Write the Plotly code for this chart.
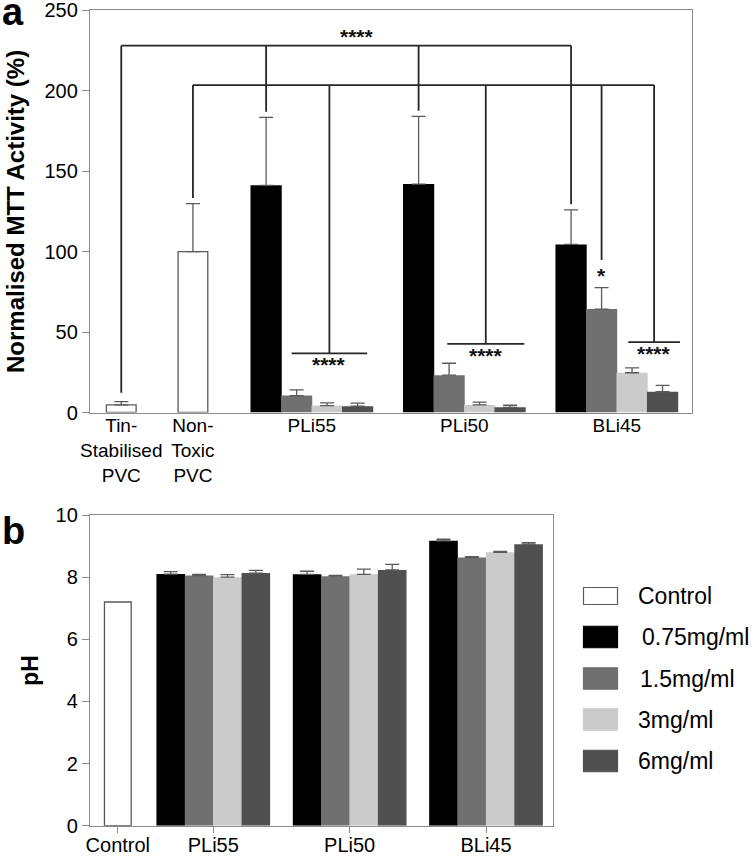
import plotly.graph_objects as go

# ---------------- data ----------------
# Panel a: normalised MTT activity (%)
control_labels_a = ["Tin-<br>Stabilised<br>PVC", "Non-<br>Toxic<br>PVC"]
control_mtt = [4.7, 100.0]
control_mtt_err = [2.1, 29.8]

groups = ["PLi55", "PLi50", "BLi45"]
series_names = ["0.75mg/ml", "1.5mg/ml", "3mg/ml", "6mg/ml"]

mtt_075 = [141.2, 142.0, 104.5]
mtt_15 = [10.5, 23.2, 64.3]
mtt_3 = [4.3, 4.7, 24.7]
mtt_6 = [3.9, 3.2, 12.9]
mtt_075_err = [42.3, 42.1, 21.5]
mtt_15_err = [3.6, 7.4, 13.3]
mtt_3_err = [1.7, 1.8, 3.0]
mtt_6_err = [1.9, 1.3, 3.9]

# Panel b: pH
control_label_b = ["Control"]
control_ph = [7.2]
ph_075 = [8.10, 8.09, 9.17]
ph_15 = [8.05, 8.03, 8.63]
ph_3 = [8.00, 8.09, 8.80]
ph_6 = [8.13, 8.23, 9.06]
ph_075_err = [0.08, 0.10, 0.05]
ph_15_err = [0.04, 0.03, 0.03]
ph_3_err = [0.08, 0.17, 0.03]
ph_6_err = [0.09, 0.18, 0.05]

yticks_a = [0, 50, 100, 150, 200, 250]
yticks_b = [0, 2, 4, 6, 8, 10]

# significance labels
sig_main = "****"
sig_single = "*"

# ---------------- layout / style ----------------
W, H = 755, 857
FONT = "Liberation Sans, Arial, sans-serif"
colors = ["#000000", "#707070", "#cbcbcb", "#505050"]
ctrl_fill, ctrl_line = "#ffffff", "#5a5a5a"
axis_col = "#8a8a8a"
err_col = "#5a5a5a"
brk_col = "#262626"

# category positions on the numeric x axes
pos_ctrl_a = [0.0, 0.47]
pos_grp_a = [1.25, 2.25, 3.25]
step_a, width_a, ctrl_w_a = 0.2, 0.205, 0.195
pos_ctrl_b = [0.3]
pos_grp_b = [1.0, 2.0, 3.0]
step_b, width_b, ctrl_w_b = 0.208, 0.21, 0.196

def px_x(px):
    return px / W

def px_y(py):
    return 1 - py / H

series_a = [mtt_075, mtt_15, mtt_3, mtt_6]
series_a_err = [mtt_075_err, mtt_15_err, mtt_3_err, mtt_6_err]
series_b = [ph_075, ph_15, ph_3, ph_6]
series_b_err = [ph_075_err, ph_15_err, ph_3_err, ph_6_err]

def err(arr, color=err_col, w=7):
    return dict(type="data", symmetric=False, array=arr, arrayminus=[0] * len(arr),
                color=color, thickness=1.3, width=w)

fig = go.Figure()

# ---- panel a bars ----
fig.add_trace(go.Bar(x=pos_ctrl_a, y=control_mtt, width=ctrl_w_a, name="Control",
                     marker=dict(color=ctrl_fill, line=dict(color=ctrl_line, width=1.3)),
                     error_y=err(control_mtt_err), xaxis="x", yaxis="y", showlegend=False))
for i, (vals, errs) in enumerate(zip(series_a, series_a_err)):
    fig.add_trace(go.Bar(x=pos_grp_a, y=vals, width=width_a,
                         offset=(i - 1.5) * step_a - width_a / 2,
                         name=series_names[i], marker=dict(color=colors[i], line=dict(width=0)),
                         error_y=err(errs), xaxis="x", yaxis="y", showlegend=False))

# ---- panel b bars ----
fig.add_trace(go.Bar(x=pos_ctrl_b, y=control_ph, width=ctrl_w_b, name="Control",
                     marker=dict(color=ctrl_fill, line=dict(color=ctrl_line, width=1.3)),
                     xaxis="x2", yaxis="y2", showlegend=False))
for i, (vals, errs) in enumerate(zip(series_b, series_b_err)):
    fig.add_trace(go.Bar(x=pos_grp_b, y=vals, width=width_b,
                         offset=(i - 1.5) * step_b - width_b / 2,
                         name=series_names[i], marker=dict(color=colors[i], line=dict(width=0)),
                         error_y=err(errs, w=7), xaxis="x2", yaxis="y2", showlegend=False))

# ---- significance brackets (panel a) ----
def bar_c(g, i):
    return pos_grp_a[g] + (i - 1.5) * step_a

gap = 3.5
level_top, level_mid = 228.0, 203.5
sub_spans = [(-0.133, 0.363), (-0.112, 0.393), (0.075, 0.414)]
sub_levels = [36.8, 42.6, 43.7]

shapes = []
def seg(x0, y0, x1, y1):
    shapes.append(dict(type="line", xref="x", yref="y", x0=x0, y0=y0, x1=x1, y1=y1,
                       line=dict(color=brk_col, width=1.8)))

# top bracket: Tin-stabilised vs 0.75mg/ml of each material
top_targets = [(pos_ctrl_a[0], control_mtt[0] + control_mtt_err[0] + gap + 2)]
for g in range(3):
    top_targets.append((bar_c(g, 0), series_a[0][g] + series_a_err[0][g] + gap))
seg(top_targets[0][0], level_top, top_targets[-1][0], level_top)
for x, yb in top_targets:
    seg(x, level_top, x, yb)

# second bracket: Non-toxic vs groups
sub_centres = []
for g, (a, b) in enumerate(sub_spans):
    x0, x1 = pos_grp_a[g] + a, pos_grp_a[g] + b
    seg(x0, sub_levels[g], x1, sub_levels[g])
    sub_centres.append((x0 + x1) / 2)
mid_targets = [(pos_ctrl_a[1], control_mtt[1] + control_mtt_err[1] + gap)]
for g in range(3):
    mid_targets.append((sub_centres[g], sub_levels[g]))
gray_b = (bar_c(2, 1), series_a[1][2] + series_a_err[1][2] + 17.2)
mid_targets.append(gray_b)
seg(pos_ctrl_a[1], level_mid, sub_centres[-1], level_mid)
for x, yb in mid_targets:
    seg(x, level_mid, x, yb)

annotations = []
def star(x, y, text):
    annotations.append(dict(x=x, y=y, xref="x", yref="y", text="<b>" + text + "</b>",
                            showarrow=False, xanchor="center", yanchor="middle", yshift=-6,
                            font=dict(family=FONT, size=21, color="#111")))

star(1.544, 237.6, sig_main)
for g in range(3):
    star(sub_centres[g], sub_levels[g] - 3.5, sig_main)
star(gray_b[0], 88.6, sig_single)

# panel letters
annotations.append(dict(x=0, y=px_y(12), xref="paper", yref="paper", text="<b>a</b>",
                        showarrow=False, xanchor="left", yanchor="middle",
                        font=dict(family=FONT, size=38, color="#000")))
annotations.append(dict(x=0, y=px_y(531), xref="paper", yref="paper", text="<b>b</b>",
                        showarrow=False, xanchor="left", yanchor="middle",
                        font=dict(family=FONT, size=38, color="#000")))

# ---- manual legend (panel b) ----
leg_names = ["Control"] + series_names
leg_fill = [ctrl_fill] + colors
leg_line = [ctrl_line] + colors
leg_y = [596, 637, 678.5, 719.5, 761]
leg_text_x = [636, 640, 638, 636, 636]
for k, name in enumerate(leg_names):
    h = 17 if k == 0 else 21.5
    shapes.append(dict(type="rect", xref="paper", yref="paper",
                       x0=px_x(583.5), x1=px_x(617.5),
                       y0=px_y(leg_y[k] - h / 2), y1=px_y(leg_y[k] + h / 2),
                       fillcolor=leg_fill[k], line=dict(color=leg_line[k], width=1.2)))
    annotations.append(dict(x=px_x(leg_text_x[k]), y=px_y(leg_y[k]), xref="paper", yref="paper",
                            text=name, showarrow=False, xanchor="left", yanchor="middle",
                            font=dict(family=FONT, size=23, color="#000")))

axis_common = dict(showline=True, linecolor=axis_col, linewidth=1.3, mirror=True,
                   showgrid=False, zeroline=False, automargin=False,
                   ticklabeloverflow="allow")

fig.update_layout(
    width=W, height=H, margin=dict(l=0, r=0, t=0, b=0),
    paper_bgcolor="white", plot_bgcolor="white", barmode="overlay",
    font=dict(family=FONT, size=20, color="#000"),
    xaxis=dict(domain=[px_x(90), px_x(692)], range=[-0.205, 3.743], anchor="y",
               tickmode="array", tickvals=pos_ctrl_a + pos_grp_a,
               ticktext=control_labels_a + groups, ticks="", ticklabelstandoff=-4,
               tickfont=dict(size=19), **axis_common),
    yaxis=dict(domain=[px_y(412.5), px_y(10.3)], range=[0, 250], anchor="x",
               tickmode="array", tickvals=yticks_a, ticks="outside", ticklen=7,
               tickcolor=axis_col, tickfont=dict(size=20),
               title=dict(text="<b>Normalised MTT Activity (%)</b>", standoff=13,
                          font=dict(size=24)), **axis_common),
    xaxis2=dict(domain=[px_x(90), px_x(553)], range=[0.096, 3.491], anchor="y2",
                tickmode="array", tickvals=pos_ctrl_b + pos_grp_b,
                ticktext=control_label_b + groups, ticks="outside", ticklen=6,
                ticklabelstandoff=-5,
                tickcolor=axis_col, tickfont=dict(size=20), **axis_common),
    yaxis2=dict(domain=[px_y(825.7), px_y(515)], range=[0, 10], anchor="x2",
                tickmode="array", tickvals=yticks_b, ticks="outside", ticklen=7,
                tickcolor=axis_col, tickfont=dict(size=20),
                title=dict(text="<b>pH</b>", standoff=10, font=dict(size=23)),
                **axis_common),
    shapes=shapes, annotations=annotations,
)

fig.write_html("out.html", config={"displayModeBar": False},
               post_script="document.body.style.margin='0';")
